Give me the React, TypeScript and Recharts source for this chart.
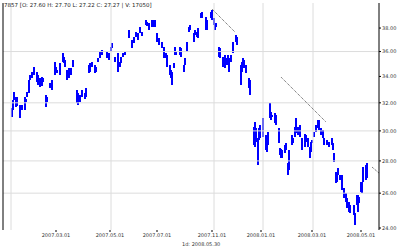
import { BarChart, Bar, XAxis, YAxis, ReferenceLine } from "recharts";

// trading day index (0 = left edge of the plot)
const days = [
  9, 10, 11, 13, 14, 17, 19, 22, 23, 24,
  26, 27, 29, 31, 34, 35, 37, 39, 40, 43,
  44, 47, 49, 52, 53, 54, 57, 60, 61, 62,
  64, 66, 68, 70, 74, 75, 77, 79, 82, 83,
  86, 87, 89, 92, 93, 95, 97, 99, 104, 106,
  108, 109, 112, 115, 117, 118, 120, 122, 126, 129,
  131, 133, 135, 137, 139, 143, 144, 146, 149, 151,
  152, 154, 156, 159, 161, 163, 164, 167, 168, 169,
  171, 172, 173, 177, 178, 181, 182, 184, 186, 187,
  191, 192, 194, 195, 198, 199, 203, 204, 208, 209,
  211, 212, 213, 216, 217, 220, 222, 223, 225, 226,
  228, 230, 233, 234, 238, 239, 240, 241, 243, 246,
  247, 251, 252, 253, 255, 256, 257, 260, 263, 264,
  265, 267, 268, 269, 272, 273, 276, 277, 278, 279,
  282, 283, 285, 286, 289, 290, 292, 293, 295, 297,
  299, 302, 303, 305, 307, 308, 309, 311, 313, 315,
  316, 318, 320, 321, 324, 326, 329, 330, 331, 333,
  334, 335, 337, 339, 341, 343, 344, 346, 347, 351,
  352, 354, 355, 356, 358, 359, 360, 363, 364,
];

const highs = [
  31.62, 32.21, 32.81, 32.43, 32.43, 31.84, 31.84, 32.43, 32.28, 32.81,
  33.72, 34.11, 34.35, 34.74, 34.35, 34.11, 33.87, 33.95, 33.87, 32.58,
  32.43, 33.49, 33.72, 35.14, 34.74, 34.5, 35.06, 35.88, 35.55, 35.3,
  34.5, 34.66, 34.66, 35.3, 32.96, 32.73, 32.58, 32.96, 32.73, 33.1,
  34.9, 35.06, 35.14, 34.9, 34.74, 35.47, 35.96, 36.13, 35.96, 35.88,
  36.38, 36.71, 35.55, 35.88, 35.14, 35.55, 35.88, 35.96, 37.83, 36.97,
  37.23, 37.65, 37.57, 38.09, 37.65, 38.7, 38.53, 38.44, 38.7, 38.7,
  38.7, 37.57, 37.14, 36.8, 36.38, 35.88, 35.71, 34.9, 34.5, 34.35,
  35.06, 36.38, 35.96, 36.38, 36.29, 34.9, 35.47, 36.8, 38.09, 38.26,
  37.57, 37.83, 37.65, 38.0, 39.33, 39.42, 38.97, 38.7, 39.42, 39.61,
  38.88, 38.44, 38.44, 36.38, 36.29, 35.55, 35.71, 35.47, 35.71, 35.47,
  35.71, 36.8, 37.4, 37.23, 34.9, 35.14, 35.47, 35.3, 34.9, 33.87,
  33.72, 30.27, 30.62, 30.2, 29.51, 30.2, 30.4, 30.9, 29.72, 29.51,
  29.93, 31.98, 31.34, 31.12, 31.26, 31.12, 30.2, 28.84, 28.78, 28.71,
  29.04, 29.18, 27.87, 28.71, 29.72, 29.51, 30.27, 30.9, 30.27, 30.4,
  29.51, 29.79, 29.72, 29.51, 28.91, 29.25, 29.38, 29.93, 30.4, 30.76,
  30.76, 30.2, 30.06, 29.51, 29.38, 29.25, 29.51, 29.18, 28.51, 27.3,
  27.3, 27.55, 27.11, 27.11, 26.31, 26.01, 25.71, 25.48, 25.3, 25.3,
  24.85, 25.89, 25.89, 25.77, 26.67, 26.67, 27.61, 27.74, 27.87,
];

const lows = [
  30.98, 31.48, 32.21, 31.69, 31.77, 30.9, 31.48, 31.48, 32.06, 32.43,
  32.73, 33.72, 33.87, 34.11, 33.57, 33.34, 33.18, 33.26, 33.57, 31.69,
  32.06, 33.1, 32.96, 34.11, 34.27, 34.27, 34.11, 35.14, 35.06, 34.74,
  33.72, 33.87, 34.11, 34.74, 31.98, 31.84, 32.06, 32.43, 32.28, 32.43,
  34.27, 34.35, 34.74, 34.27, 34.35, 35.14, 35.47, 35.71, 35.47, 35.3,
  35.96, 36.29, 35.14, 34.35, 34.74, 35.06, 35.55, 35.71, 37.14, 36.29,
  36.71, 37.23, 36.97, 37.57, 37.31, 38.26, 38.17, 37.83, 38.09, 38.09,
  38.09, 36.8, 36.55, 36.29, 35.47, 35.47, 34.74, 34.11, 33.87, 33.34,
  34.66, 35.71, 35.71, 35.71, 35.55, 34.35, 34.9, 35.96, 37.65, 37.83,
  36.8, 37.4, 37.23, 37.14, 38.88, 38.88, 37.83, 37.83, 38.88, 38.7,
  38.26, 37.83, 38.09, 35.55, 35.47, 34.74, 34.66, 34.9, 34.9, 34.35,
  35.14, 35.88, 36.8, 36.55, 33.34, 34.35, 35.14, 34.66, 34.27, 33.1,
  32.58, 29.04, 28.91, 29.25, 27.74, 29.38, 29.51, 29.58, 28.71, 28.58,
  29.04, 30.9, 30.76, 30.98, 30.54, 30.4, 29.18, 28.38, 28.19, 28.19,
  28.51, 28.71, 27.11, 27.42, 29.04, 29.18, 29.58, 29.86, 29.72, 29.58,
  28.71, 28.91, 29.25, 28.91, 28.19, 28.58, 29.18, 29.58, 29.93, 30.2,
  30.06, 29.72, 29.51, 29.04, 29.04, 28.91, 29.04, 28.71, 27.93, 26.61,
  26.67, 27.11, 26.8, 26.19, 25.71, 25.48, 25.13, 24.91, 24.85, 24.74,
  24.18, 25.3, 24.91, 25.42, 26.07, 26.01, 26.67, 26.8, 26.92,
];

const priceTicks = [24, 26, 28, 30, 32, 34, 36, 38];
const priceGrid = [26, 28, 30, 32, 36];

const dateTickDays = [53, 107, 154, 209, 258, 309, 358];
const dateTickLabels = [
  "2007.03.01",
  "2007.05.01",
  "2007.07.01",
  "2007.11.01",
  "2008.01.01",
  "2008.03.01",
  "2008.05.01",
];
const dateGridDays = [8, 108, 211, 260, 310];

// trend lines: [startDay, startPrice, endDay, endPrice]
const trendLines = [
  [209, 39.7, 232, 37.65],
  [278, 33.95, 323, 30.62],
  [369, 27.61, 376, 27.23],
];

const data = days.map((d, i) => ({ day: d, range: [lows[i], highs[i]] }));

const tinyFont = { fontSize: 5, fill: "#333", fontFamily: "DejaVu Sans" };

// crisp 1.5px-ish bar so it reads as solid blue like the source
function HiLoBar(props: any) {
  const { x, y, width, height } = props;
  if (height == null || isNaN(y)) return null;
  return (
    <rect
      x={Math.round(x + width / 2 - 0.5)}
      y={Math.round(y)}
      width={1.5}
      height={Math.max(1, Math.round(height))}
      fill="#0000ff"
      shapeRendering="crispEdges"
    />
  );
}

export default function App() {
  return (
    <div style={{ position: "absolute", left: 0, top: 0, width: 400, height: 250, background: "#fff" }}>
      <BarChart
        width={400}
        height={250}
        data={data}
        margin={{ top: 3, right: 0, bottom: 0, left: 3 }}
      >
        <XAxis
          dataKey="day"
          type="number"
          domain={[0, 376]}
          ticks={dateTickDays}
          tickFormatter={(v) => dateTickLabels[dateTickDays.indexOf(v)] ?? ""}
          tick={tinyFont}
          tickSize={2}
          tickMargin={1}
          tickLine={{ stroke: "#000" }}
          axisLine={false}
          height={20}
          interval={0}
        />
        <YAxis
          orientation="right"
          scale="log"
          domain={[23.89, 40.25]}
          allowDataOverflow
          ticks={priceTicks}
          tickFormatter={(v) => Number(v).toFixed(2)}
          tick={tinyFont}
          tickSize={2}
          tickMargin={1}
          tickLine={{ stroke: "#000" }}
          axisLine={{ stroke: "#000" }}
          width={21}
          interval={0}
        />
        {priceGrid.map((p) => (
          <ReferenceLine key={"h" + p} y={p} stroke="#dcdcdc" strokeWidth={1} />
        ))}
        {dateGridDays.map((d) => (
          <ReferenceLine key={"v" + d} x={d} stroke="#dcdcdc" strokeWidth={1} />
        ))}
        <ReferenceLine x={0} stroke="#000" strokeWidth={1} />
        <Bar
          dataKey="range"
          fill="#0000ff"
          barSize={1.5}
          shape={HiLoBar}
          isAnimationActive={false}
        />
        {trendLines.map((t, i) => (
          <ReferenceLine
            key={"t" + i}
            segment={[
              { x: t[0], y: t[1] },
              { x: t[2], y: t[3] },
            ]}
            stroke="#555"
            strokeWidth={1}
            strokeDasharray="1 1"
          />
        ))}
      </BarChart>
      <div
        style={{
          position: "absolute",
          left: 4,
          top: 2,
          fontSize: 5.5,
          fontFamily: "DejaVu Sans",
          color: "#222",
          whiteSpace: "nowrap",
          lineHeight: "7px",
        }}
      >
        7857 [O: 27.60 H: 27.70 L: 27.22 C: 27.27 | V: 17050]
      </div>
      <div
        style={{
          position: "absolute",
          left: 182,
          top: 241,
          fontSize: 5,
          fontFamily: "DejaVu Sans",
          color: "#333",
          whiteSpace: "nowrap",
          lineHeight: "6px",
        }}
      >
        1d: 2008.05.30
      </div>
    </div>
  );
}
